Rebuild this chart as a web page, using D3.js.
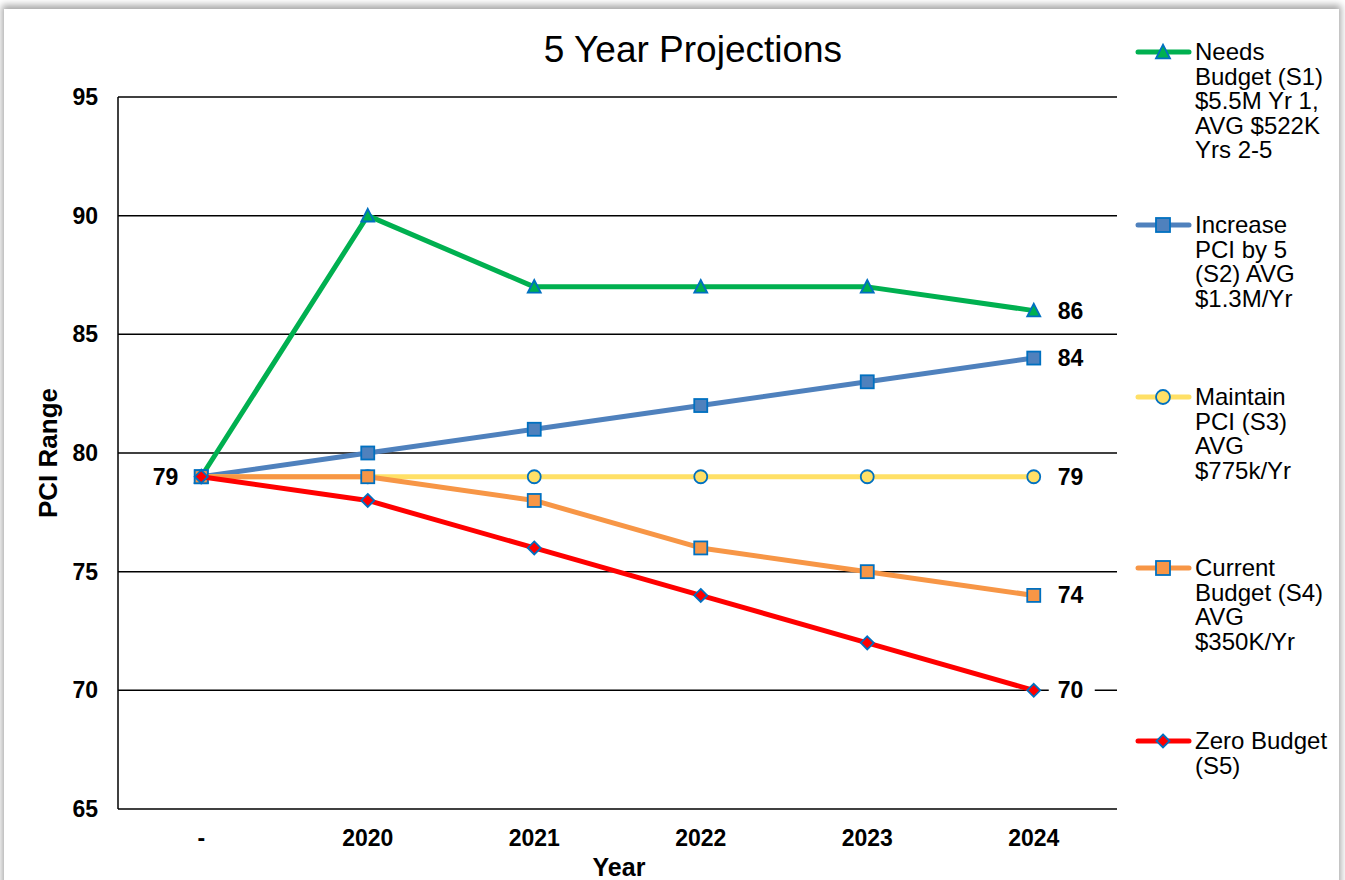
<!DOCTYPE html>
<html><head><meta charset="utf-8">
<script src="https://cdn.jsdelivr.net/npm/d3@7"></script>
<style>
html,body{margin:0;padding:0;background:#fff;width:1345px;height:880px;overflow:hidden;}
#card{position:absolute;left:4px;top:9px;width:1335px;height:880px;background:#fff;box-shadow:0 -2px 7px 2px rgba(0,0,0,0.35);}
svg{position:absolute;left:0;top:0;}
text{font-family:Arial,"Liberation Sans",sans-serif;}
</style></head>
<body><div id="card"></div><svg id="chart" width="1345" height="880"></svg>
<script>
const categories = ["-", "2020", "2021", "2022", "2023", "2024"];
const yTicks = [65, 70, 75, 80, 85, 90, 95];
const seriesNames = [
  ["Needs", "Budget (S1)", "$5.5M Yr 1,", "AVG $522K", "Yrs 2-5"],
  ["Increase", "PCI by 5", "(S2) AVG", "$1.3M/Yr"],
  ["Maintain", "PCI (S3)", "AVG", "$775k/Yr"],
  ["Current", "Budget (S4)", "AVG", "$350K/Yr"],
  ["Zero Budget", "(S5)"]
];
const s1 = [79, 90, 87, 87, 87, 86];
const s2 = [79, 80, 81, 82, 83, 84];
const s3 = [79, 79, 79, 79, 79, 79];
const s4 = [79, 79, 78, 76, 75, 74];
const s5 = [79, 78, 76, 74, 72, 70];
const seriesValues = [s1, s2, s3, s4, s5];
const colors = ["#00B050", "#4F81BD", "#FFE066", "#F79646", "#FF0000"];
const markerFill = ["#00B050", "#4F81BD", "#FFE066", "#F79646", "#FF0000"];
const markerTypes = ["triangle", "square", "circle", "square", "diamond"];
const markerStroke = "#0070C0";

const svg = d3.select("#chart");
const pLeft = 118, pRight = 1117, pTop = 97, pBottom = 809;
const x = d3.scalePoint().domain(categories).range([pLeft, pRight]).padding(0.5);
const y = d3.scaleLinear().domain([65, 95]).range([pBottom, pTop]);

// gridlines
svg.append("g").selectAll("line").data(yTicks.filter(t => t > 65)).join("line")
  .attr("x1", pLeft).attr("x2", pRight).attr("y1", d => y(d)).attr("y2", d => y(d))
  .attr("stroke", "#000").attr("stroke-width", 1.5);
// axes lines
svg.append("line").attr("x1", pLeft).attr("x2", pLeft).attr("y1", pTop).attr("y2", pBottom).attr("stroke", "#000").attr("stroke-width", 1.5);
svg.append("line").attr("x1", pLeft).attr("x2", pRight).attr("y1", pBottom).attr("y2", pBottom).attr("stroke", "#000").attr("stroke-width", 1.5);

// y tick labels
svg.append("g").selectAll("text").data(yTicks).join("text")
  .attr("x", 98).attr("y", d => y(d)).attr("dy", "0.35em").attr("text-anchor", "end")
  .attr("font-size", 23).attr("font-weight", "bold").text(d => d);
// x tick labels
svg.append("g").selectAll("text").data(categories).join("text")
  .attr("x", d => x(d)).attr("y", 838).attr("dy", "0.35em").attr("text-anchor", "middle")
  .attr("font-size", 23).attr("font-weight", "bold").text(d => d);

// titles
svg.append("text").attr("x", 693).attr("y", 62).attr("text-anchor", "middle").attr("font-size", 37).text("5 Year Projections");
svg.append("text").attr("transform", "translate(57,453) rotate(-90)").attr("text-anchor", "middle")
  .attr("font-size", 26).attr("font-weight", "bold").text("PCI Range");
svg.append("text").attr("x", 619).attr("y", 876).attr("text-anchor", "middle")
  .attr("font-size", 25).attr("font-weight", "bold").text("Year");

function marker(g, type, i, cx, cy, size) {
  const s = size;
  let el;
  if (type === "square") {
    el = g.append("rect").attr("x", cx - s/2).attr("y", cy - s/2).attr("width", s).attr("height", s);
  } else if (type === "circle") {
    el = g.append("circle").attr("cx", cx).attr("cy", cy).attr("r", s/2);
  } else if (type === "triangle") {
    const h = s * 0.9;
    el = g.append("path").attr("d", `M${cx},${cy - h/2 - 1}L${cx + s/2},${cy + h/2}L${cx - s/2},${cy + h/2}Z`);
  } else {
    const r = s/2 + 1;
    el = g.append("path").attr("d", `M${cx},${cy - r}L${cx + r},${cy}L${cx},${cy + r}L${cx - r},${cy}Z`);
  }
  el.attr("fill", markerFill[i]).attr("stroke", markerStroke).attr("stroke-width", 1.8);
}

const line = d3.line().x((d, j) => x(categories[j])).y(d => y(d));
seriesValues.forEach((vals, i) => {
  const g = svg.append("g");
  g.append("path").datum(vals).attr("d", line).attr("fill", "none")
    .attr("stroke", colors[i]).attr("stroke-width", 5).attr("stroke-linejoin", "round");
  vals.forEach((v, j) => {
    const sz = markerTypes[i] === "diamond" ? 11 : 13;
    marker(g, markerTypes[i], i, x(categories[j]), y(v), sz);
  });
});

// data labels: last point of each series, first point once
const labG = svg.append("g");
seriesValues.forEach((vals, i) => {
  const v = vals[vals.length - 1];
  const lx = x(categories[categories.length - 1]) + 24;
  const ly = y(v);
  labG.append("rect").attr("x", lx - 9).attr("y", ly - 13).attr("width", 46).attr("height", 26).attr("fill", "#fff");
  labG.append("text").attr("x", lx).attr("y", ly).attr("dy", "0.35em").attr("font-size", 23)
    .attr("font-weight", "bold").text(v);
});
labG.append("text").attr("x", x(categories[0]) - 23).attr("y", y(s3[0])).attr("dy", "0.35em")
  .attr("text-anchor", "end").attr("font-size", 23).attr("font-weight", "bold").text(s3[0]);

// legend
const legendY = [52, 225, 397, 568, 741];
seriesNames.forEach((lines, i) => {
  const g = svg.append("g");
  const ly = legendY[i];
  g.append("line").attr("x1", 1138).attr("x2", 1189).attr("y1", ly).attr("y2", ly)
    .attr("stroke", colors[i]).attr("stroke-width", 5).attr("stroke-linecap", "round");
  marker(g, markerTypes[i], i, 1163, ly, markerTypes[i] === "diamond" ? 11 : 14);
  lines.forEach((t, k) => {
    g.append("text").attr("x", 1195).attr("y", ly + k * 24.4).attr("dy", "0.35em")
      .attr("font-size", 24).text(t);
  });
});
</script></body></html>
